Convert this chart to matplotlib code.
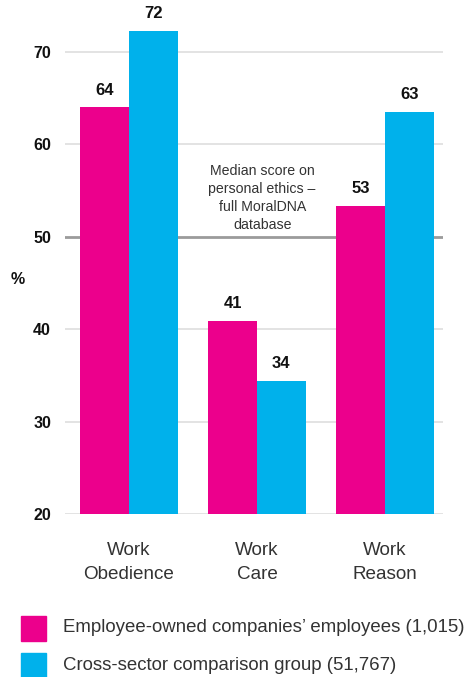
import matplotlib
matplotlib.use("Agg")
import matplotlib.pyplot as plt
import numpy as np

plt.rcParams["font.family"] = ["Liberation Sans", "DejaVu Sans"]

# data
categories = ["Work\nObedience", "Work\nCare", "Work\nReason"]
employee_owned = [64.0, 40.9, 53.3]
cross_sector = [72.3, 34.4, 63.5]
value_labels_eo = ["64", "41", "53"]
value_labels_cs = ["72", "34", "63"]
median_score = 50
yticks = [20, 30, 40, 50, 60, 70]
series_names = ["Employee-owned companies\u2019 employees (1,015)",
                "Cross-sector comparison group (51,767)"]

PINK = "#EC008C"
BLUE = "#00B1EB"

fig = plt.figure(figsize=(4.65, 6.77), dpi=100)
ax = fig.add_axes([65 / 465, 1 - 514 / 677, (443 - 65) / 465, 514 / 677])

x = np.arange(len(categories))
w = 0.379

# grid lines behind the bars, median line darker
for t in yticks:
    if t == median_score:
        ax.axhline(t, color="#9B9B9B", lw=2.0, zorder=1)
    else:
        ax.axhline(t, color="#E3E3E3", lw=1.4, zorder=1)

b1 = ax.bar(x - w / 2, employee_owned, w, color=PINK, zorder=2)
b2 = ax.bar(x + w / 2, cross_sector, w, color=BLUE, zorder=2)

for bars, labels in [(b1, value_labels_eo), (b2, value_labels_cs)]:
    for bar, lab in zip(bars, labels):
        ax.annotate(lab, (bar.get_x() + bar.get_width() / 2, bar.get_height()),
                    xytext=(0, 7), textcoords="offset points",
                    ha="center", va="bottom", fontsize=12,
                    fontweight="bold", color="#111111")

ax.text(1.04, 54.2, "Median score on\npersonal ethics \u2013\nfull MoralDNA\ndatabase",
        ha="center", va="center", fontsize=10.2, color="#333333",
        linespacing=1.35, zorder=3)

ax.set_xlim(-0.5, 2.453)
ax.set_ylim(20, 75.6)
ax.set_yticks(yticks)
ax.set_yticklabels([str(t) for t in yticks], fontsize=11.5, fontweight="bold",
                   color="#111111")
ax.tick_params(axis="y", length=0, pad=10)
ax.set_xticks([])
for s in ax.spines.values():
    s.set_visible(False)

# category labels under the groups
for xi, cat in zip(x, categories):
    ax.annotate(cat, (xi, 20), xytext=(0, -20.5), textcoords="offset points",
                ha="center", va="top", fontsize=13.6, color="#333333",
                linespacing=1.5, annotation_clip=False)

fig.text(18 / 465, 1 - 279 / 677, "%", ha="center", va="center",
         fontsize=11.5, fontweight="bold", color="#111111")

# legend
for i, (name, col) in enumerate(zip(series_names, [PINK, BLUE])):
    y0 = 616 + i * 37
    fig.patches.append(plt.Rectangle((21 / 465, 1 - (y0 + 25) / 677), 25 / 465, 25 / 677,
                                     transform=fig.transFigure, color=col))
    fig.text(63 / 465, 1 - (y0 + 12) / 677, name, ha="left", va="center",
             fontsize=13.4, color="#333333")

fig.savefig("out.png", dpi=100)
